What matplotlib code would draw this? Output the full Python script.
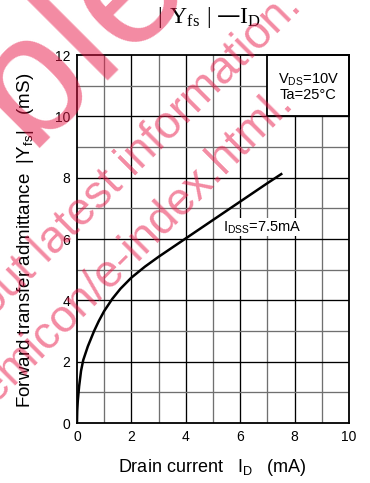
import matplotlib
matplotlib.use("Agg")
import matplotlib.pyplot as plt
from matplotlib.patches import Rectangle

# |Yfs| - ID characteristic (VDS = 10 V, Ta = 25 C, IDSS = 7.5 mA)
id_ma = [0, 0.01, 0.03, 0.08, 0.15, 0.23, 0.4, 0.63, 0.8, 1.0, 1.3, 1.6,
         2.0, 2.5, 3.0, 3.5, 4.0, 4.5, 5.0, 5.5, 6.0, 6.5, 7.0, 7.55]
yfs_ms = [0, 0.4, 0.72, 1.2, 1.7, 2.05, 2.5, 3.0, 3.32, 3.65, 4.05, 4.38,
          4.74, 5.1, 5.42, 5.72, 6.02, 6.32, 6.62, 6.92, 7.22, 7.52, 7.82, 8.14]

x_ticks = [0, 2, 4, 6, 8, 10]
y_ticks = [0, 2, 4, 6, 8, 10, 12]

sans = "Liberation Sans"
serif = "Liberation Serif"

fig = plt.figure(figsize=(3.7, 4.83), dpi=100)
ax = fig.add_axes([0.208, 0.1242, 0.735, 0.7618])
ax.set_xlim(0, 10)
ax.set_ylim(0, 12)

# grid: even lines black, odd lines grey
for v in range(1, 10):
    ax.axvline(v, color="black" if v % 2 == 0 else "#707070", lw=0.95, zorder=1)
for v in range(1, 12):
    ax.axhline(v, color="black" if v % 2 == 0 else "#707070", lw=0.95, zorder=1)

for s in ax.spines.values():
    s.set_linewidth(1.3)
    s.set_zorder(5)

ax.set_xticks(x_ticks)
ax.set_yticks(y_ticks)
ax.tick_params(length=0, labelsize=10, pad=5)
for lab in ax.get_xticklabels() + ax.get_yticklabels():
    lab.set_fontfamily(sans)

# conditions box in the upper right corner
ax.add_patch(Rectangle((7, 10), 3, 2, facecolor="white", edgecolor="black",
                       lw=1.3, zorder=3, clip_on=False))
ax.text(8.5, 10.95, "V$\\mathregular{_{DS}}$=10V\nTa=25°C", ha="center", va="center",
        fontsize=10.5, family=sans, linespacing=1.0, zorder=4)

ax.plot(id_ma, yfs_ms, color="black", lw=1.8, zorder=4, solid_capstyle="butt")
ax.text(5.36, 6.38, "I$\\mathregular{_{DSS}}$=7.5mA", ha="left", va="center",
        fontsize=10.5, family=sans, zorder=4,
        bbox=dict(facecolor="white", edgecolor="none", pad=0.5))

fig.text(0.565, 0.963, "$\\mathregular{|\\ Y_{fs}\\ |}$\u2009\u2014$\\mathregular{I_D}$",
         ha="center", va="center", fontsize=17, family=serif)
fig.text(0.573, 0.033, "Drain current   I$\\mathregular{_D}$   (mA)",
         ha="center", va="center", fontsize=13, family=sans)
fig.text(0.068, 0.503, "Forward transfer admittance  |Y$\\mathregular{_{fs}}$|   (mS)",
         ha="center", va="center", rotation=90, fontsize=13.5, family=sans)

# watermark
wm = dict(color=(0.91, 0.09, 0.28), alpha=0.5, rotation=45,
          rotation_mode="anchor", ha="left", va="baseline", family=sans, zorder=10)
fig.text(0.078, 0.692, "ble", fontsize=125, **wm)
fig.text(-0.019, 0.342, "out latest information.", fontsize=33, **wm)
fig.text(-0.0135, 0.163, "emicon/e-index.html.", fontsize=33, **wm)

fig.savefig("out.png", dpi=100)
